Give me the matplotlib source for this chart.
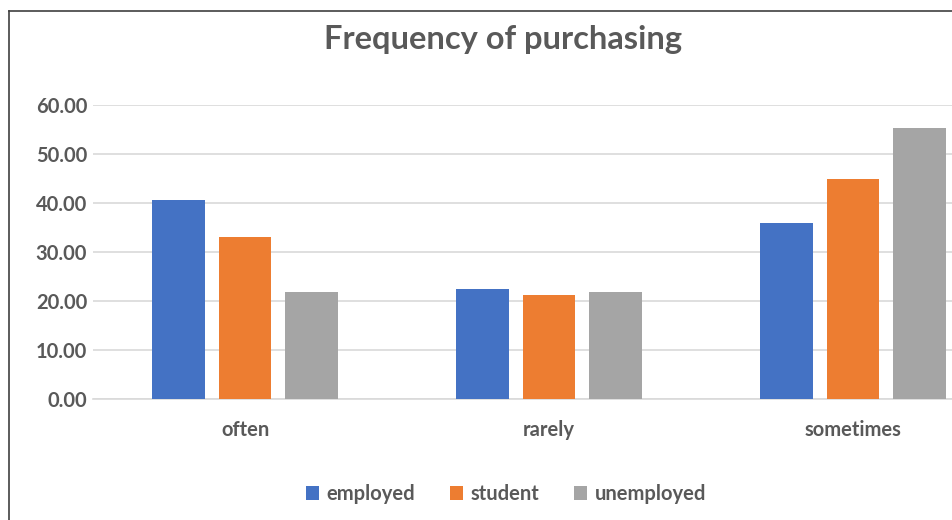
import numpy as np
import matplotlib.pyplot as plt
from matplotlib.lines import Line2D

# purchase frequency (%) by employment status
categories = ['often', 'rarely', 'sometimes']
employed = [40.6, 22.4, 35.9]
student = [33.1, 21.2, 44.9]
unemployed = [21.8, 21.8, 55.3]
series_names = ['employed', 'student', 'unemployed']

COLORS = ['#4472C4', '#ED7D31', '#A5A5A5']
TEXT = '#595959'
GRID = '#D9D9D9'
BAR_WIDTH = 0.174
STEP = 0.219

plt.rcParams['font.family'] = ['Lato', 'DejaVu Sans']

fig = plt.figure(figsize=(9.52, 5.2), dpi=100)
ax = fig.add_axes([93 / 952, 121 / 520, 912 / 952, 294 / 520])

index = np.arange(len(categories))
for i, (vals, name) in enumerate(zip([employed, student, unemployed], series_names)):
    ax.bar(index + (i - 1) * STEP, vals, BAR_WIDTH, color=COLORS[i], label=name, zorder=3)

ax.set_xlim(-0.5, 2.5)
ax.set_ylim(0, 60)
ax.set_yticks(np.arange(0, 61, 10))
ax.set_yticklabels([f'{v:.2f}' for v in np.arange(0, 61, 10)])
ax.set_xticks(index)
ax.set_xticklabels(categories)
ax.grid(axis='y', color=GRID, linewidth=1.2, zorder=0)
for s in ['top', 'right', 'left']:
    ax.spines[s].set_visible(False)
ax.spines['bottom'].set_color(GRID)
ax.spines['bottom'].set_linewidth(1.2)
ax.tick_params(length=0, colors=TEXT, labelsize=14.5)
ax.tick_params(axis='y', pad=4.3)
ax.tick_params(axis='x', pad=15)
for lbl in ax.get_xticklabels() + ax.get_yticklabels():
    lbl.set_fontweight('bold')

fig.text(503 / 952, 1 - 40 / 520, 'Frequency of purchasing', ha='center', va='center',
         fontsize=23.5, fontweight='bold', color=TEXT)

handles, labels = ax.get_legend_handles_labels()
fig.legend(handles, labels, loc='center', bbox_to_anchor=(506 / 952, 1 - 494 / 520),
           ncol=3, frameon=False, handlelength=0.65, handleheight=0.65,
           handletextpad=0.35, columnspacing=1.75,
           prop={'size': 14.5, 'weight': 'bold'}, labelcolor=TEXT)

# outer chart border (left and top edges)
fig.add_artist(Line2D([8.5 / 952, 8.5 / 952], [0, 1 - 11 / 520], transform=fig.transFigure,
                      color='#404040', linewidth=1.2))
fig.add_artist(Line2D([8.5 / 952, 1], [1 - 11 / 520, 1 - 11 / 520], transform=fig.transFigure,
                      color='#404040', linewidth=1.2))

fig.savefig('out.png', dpi=100)
